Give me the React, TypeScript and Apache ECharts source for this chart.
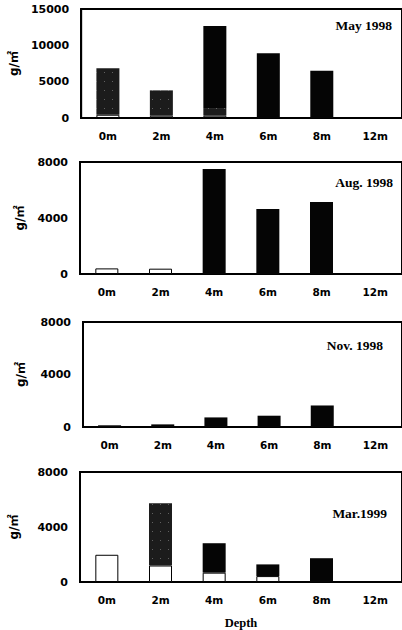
import React, { useEffect, useRef } from "react";
import * as echarts from "echarts";

const depths = ["0m", "2m", "4m", "6m", "8m", "12m"];
const panelTitles = ["May 1998", "Aug. 1998", "Nov. 1998", "Mar.1999"];
const yMax = [15000, 8000, 8000, 8000];
const yInterval = [5000, 4000, 4000, 4000];

const may98White = [450, 320, 320, 0, 0, 0];
const may98Gray = [6400, 3480, 1050, 0, 0, 0];
const may98Black = [0, 0, 11300, 8900, 6500, 0];

const aug98White = [400, 380, 0, 0, 0, 0];
const aug98Gray = [0, 0, 0, 0, 0, 0];
const aug98Black = [0, 0, 7500, 4650, 5150, 0];

const nov98White = [0, 0, 0, 0, 0, 0];
const nov98Gray = [0, 0, 0, 0, 0, 0];
const nov98Black = [130, 200, 730, 860, 1640, 0];

const mar99White = [1980, 1200, 680, 430, 0, 0];
const mar99Gray = [0, 4530, 0, 0, 0, 0];
const mar99Black = [0, 0, 2140, 850, 1730, 0];

const panels = [
  [may98White, may98Gray, may98Black],
  [aug98White, aug98Gray, aug98Black],
  [nov98White, nov98Gray, nov98Black],
  [mar99White, mar99Gray, mar99Black],
];

export default function App() {
  const ref = useRef<HTMLDivElement>(null);
  useEffect(() => {
    document.body.style.margin = "0";
    if (!ref.current) return;
    const chart = echarts.init(ref.current, null, { renderer: "svg" });

    const grids = [
      { left: 80, top: 9, width: 322, height: 109 },
      { left: 80, top: 162, width: 322, height: 112 },
      { left: 83, top: 322, width: 322, height: 105 },
      { left: 79, top: 472, width: 323, height: 111 },
    ];
    const nameGaps = [58, 50, 56, 60];
    const titlePos = [
      { right: 10, top: 18 },
      { right: 9, top: 175 },
      { right: 19, top: 338 },
      { right: 15, top: 506 },
    ];

    const tickFont = {
      fontFamily: "DejaVu Sans",
      fontWeight: "bold" as const,
      color: "#000",
    };

    const xAxis = grids.map((_, i) => ({
      type: "category" as const,
      gridIndex: i,
      data: depths,
      axisLine: { lineStyle: { color: "#000", width: 2 } },
      axisTick: { show: false },
      axisLabel: { ...tickFont, fontSize: 10.5, margin: 12 },
      name: i === 3 ? "Depth" : "",
      nameLocation: "middle" as const,
      nameGap: 34,
      nameTextStyle: {
        fontFamily: "Liberation Serif",
        fontWeight: "bold" as const,
        fontSize: 12.5,
        color: "#000",
      },
    }));

    const yAxis = grids.map((_, i) => ({
      type: "value" as const,
      gridIndex: i,
      min: 0,
      max: yMax[i],
      interval: yInterval[i],
      axisLine: { show: true, lineStyle: { color: "#000", width: 2 } },
      axisTick: { show: false },
      splitLine: { show: false },
      axisLabel: {
        ...tickFont,
        fontSize: 11,
        margin: 12,
        formatter: (v: number) => String(v),
      },
      name: "g/㎡",
      nameLocation: "middle" as const,
      nameRotate: 90,
      nameGap: nameGaps[i],
      nameTextStyle: {
        fontFamily: "DejaVu Sans, Noto Sans CJK SC",
        fontWeight: "bold" as const,
        fontSize: 12,
        color: "#000",
      },
    }));

    const styles = [
      { color: "#ffffff", borderColor: "#000", borderWidth: 1 },
      {
        color: "#1c1c1c",
        decal: {
          symbol: "rect",
          symbolSize: 1,
          color: "rgba(255,255,255,0.3)",
          dashArrayX: [1, 7],
          dashArrayY: [1, 8],
          rotation: 0,
        },
      },
      { color: "#050505" },
    ];

    const series: any[] = [];
    panels.forEach((sets, i) => {
      sets.forEach((vals, k) => {
        series.push({
          type: "bar",
          xAxisIndex: i,
          yAxisIndex: i,
          stack: "p" + i,
          barWidth: 23,
          data: vals.map((v) => (v === 0 ? null : v)),
          itemStyle: styles[k],
          silent: true,
        });
      });
    });

    chart.setOption({
      animation: false,
      title: panelTitles.map((t, i) => ({
        text: t,
        right: titlePos[i].right,
        top: titlePos[i].top,
        padding: 0,
        textStyle: {
          fontFamily: "Liberation Serif",
          fontWeight: "bold",
          fontSize: 13.5,
          color: "#000",
        },
      })),
      grid: grids.map((g) => ({
        ...g,
        show: true,
        borderColor: "#000",
        borderWidth: 2,
        backgroundColor: "transparent",
      })),
      xAxis,
      yAxis,
      series,
    });
    return () => chart.dispose();
  }, []);
  return <div ref={ref} style={{ width: 402, height: 630, background: "#fff" }} />;
}
